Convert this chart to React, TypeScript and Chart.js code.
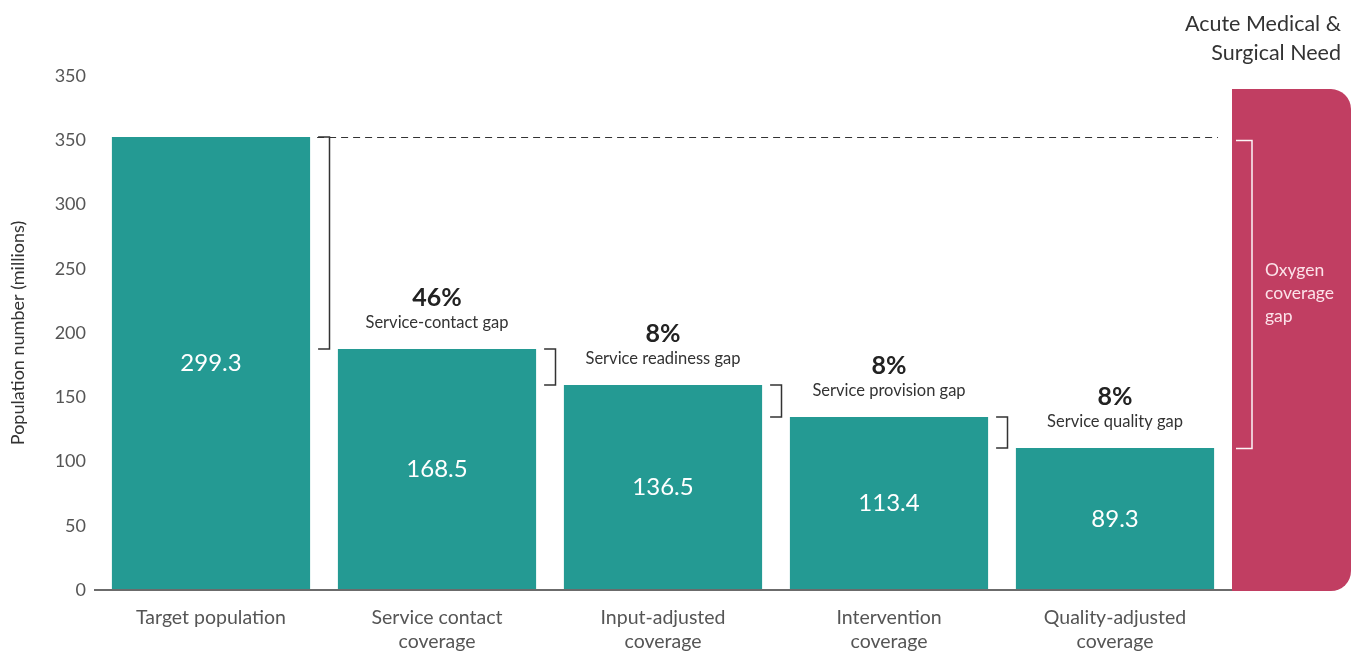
import React, { useEffect, useRef } from "react";
import { Chart, registerables } from "chart.js";

Chart.register(...registerables);

const categories: string[][] = [
  ["Target population"],
  ["Service contact", "coverage"],
  ["Input-adjusted", "coverage"],
  ["Intervention", "coverage"],
  ["Quality-adjusted", "coverage"],
];
// bar heights as drawn against the axis (axis units)
const barHeights: number[] = [352.5, 187.5, 159.5, 134.6, 110.5];
const valueLabels: string[] = ["299.3", "168.5", "136.5", "113.4", "89.3"];
const gapPercents: string[] = ["46%", "8%", "8%", "8%"];
const gapNames: string[] = [
  "Service-contact gap",
  "Service readiness gap",
  "Service provision gap",
  "Service quality gap",
];
const yTickLabels: string[] = ["0", "50", "100", "150", "200", "250", "300", "350", "350"];
const acuteNeedValue: number = 389.8;
const oxygenGapRange: number[] = [350.5, 110.5];
const acuteTitle: string[] = ["Acute Medical &", "Surgical Need"];
const oxygenText: string[] = ["Oxygen", "coverage", "gap"];
const yAxisTitle = "Population number (millions)";

const FONT = "Lato, 'Noto Sans', sans-serif";
const TEAL = "#249A93";
const MAGENTA = "#C13E62";

const overlayPlugin = {
  id: "overlay",
  afterDatasetsDraw(chart: any) {
    const ctx = chart.ctx as CanvasRenderingContext2D;
    const y = chart.scales.y;
    const area = chart.chartArea;
    const meta = chart.getDatasetMeta(0);
    const bars = meta.data as any[];
    ctx.save();

    const base = y.getPixelForValue(0);

    // Axis line
    ctx.strokeStyle = "#6b6b6b";
    ctx.lineWidth = 2;
    ctx.beginPath();
    ctx.moveTo(area.left - 4, base);
    ctx.lineTo(area.right + 4, base);
    ctx.stroke();

    // Acute need bar
    const aTop = y.getPixelForValue(acuteNeedValue);
    const aBottom = base + 1;
    const aLeft = area.right + 4;
    const aRight = aLeft + 119;
    ctx.fillStyle = MAGENTA;
    ctx.beginPath();
    (ctx as any).roundRect(aLeft, aTop, aRight - aLeft, aBottom - aTop, [0, 20, 20, 0]);
    ctx.fill();

    // Oxygen bracket
    const oTop = Math.round(y.getPixelForValue(oxygenGapRange[0])) + 0.5;
    const oBot = Math.round(y.getPixelForValue(oxygenGapRange[1])) + 0.5;
    ctx.strokeStyle = "rgba(255,255,255,0.95)";
    ctx.lineWidth = 1.5;
    ctx.beginPath();
    ctx.moveTo(aLeft + 4, oTop);
    ctx.lineTo(aLeft + 20, oTop);
    ctx.lineTo(aLeft + 20, oBot);
    ctx.lineTo(aLeft + 4, oBot);
    ctx.stroke();

    ctx.fillStyle = "rgba(255,235,240,0.95)";
    ctx.font = `17.5px ${FONT}`;
    ctx.textAlign = "left";
    ctx.textBaseline = "middle";
    oxygenText.forEach((t, i) => ctx.fillText(t, aLeft + 33, 270 + i * 23));

    // Title
    ctx.fillStyle = "#333";
    ctx.font = `21.5px ${FONT}`;
    ctx.textAlign = "right";
    acuteTitle.forEach((t, i) => ctx.fillText(t, aRight - 10, 24 + i * 29));

    // Dashed line at target top
    const first = bars[0];
    const dy = Math.round(first.y) + 0.5;
    ctx.strokeStyle = "#333";
    ctx.lineWidth = 1;
    ctx.setLineDash([7, 5]);
    ctx.beginPath();
    ctx.moveTo(first.x + first.width / 2 + 7, dy);
    ctx.lineTo(aLeft - 14, dy);
    ctx.stroke();
    ctx.setLineDash([]);

    // Value labels
    ctx.fillStyle = "#fff";
    ctx.font = `24px ${FONT}`;
    ctx.textAlign = "center";
    bars.forEach((b, i) => {
      ctx.fillText(valueLabels[i], b.x, (b.y + b.base) / 2);
    });

    // Brackets and gap labels
    for (let i = 1; i < bars.length; i++) {
      const prev = bars[i - 1];
      const cur = bars[i];
      const bx0 = prev.x + prev.width / 2 + 8;
      const bx1 = Math.round(bx0 + 11) + 0.5;
      ctx.strokeStyle = "#333";
      ctx.lineWidth = 1.5;
      ctx.beginPath();
      ctx.moveTo(bx0, prev.y);
      ctx.lineTo(bx1, prev.y);
      ctx.lineTo(bx1, cur.y);
      ctx.lineTo(bx0, cur.y);
      ctx.stroke();

      ctx.fillStyle = "#222";
      ctx.font = `bold 25px ${FONT}`;
      ctx.fillText(gapPercents[i - 1], cur.x, cur.y - 51);
      ctx.fillStyle = "#333";
      ctx.font = `16.5px ${FONT}`;
      ctx.fillText(gapNames[i - 1], cur.x, cur.y - 26);
    }
    ctx.restore();
  },
};

export default function App() {
  const ref = useRef<HTMLCanvasElement>(null);
  useEffect(() => {
    document.body.style.margin = "0";
    if (!ref.current) return;
    const chart = new Chart(ref.current, {
      type: "bar",
      data: {
        labels: categories,
        datasets: [
          {
            data: barHeights,
            backgroundColor: TEAL,
            barPercentage: 0.877,
            categoryPercentage: 1,
          },
        ],
      },
      options: {
        animation: false,
        responsive: false,
        layout: { padding: { left: 0, right: 128, top: 76, bottom: 0 } },
        plugins: { legend: { display: false }, tooltip: { enabled: false } },
        scales: {
          x: {
            grid: { display: false, drawTicks: false },
            border: { display: false },
            ticks: {
              font: { family: FONT, size: 19.5, lineHeight: 1.23 },
              color: "#555",
              padding: 16,
              maxRotation: 0,
            },
            afterFit: (s: any) => {
              s.height = 63;
            },
          },
          y: {
            min: 0,
            max: 400,
            grid: { display: false, drawTicks: false },
            border: { display: false },
            ticks: {
              stepSize: 50,
              font: { family: FONT, size: 18 },
              color: "#555",
              padding: 12,
              callback: (_v: any, i: number) => yTickLabels[i],
            },
            title: {
              display: true,
              text: yAxisTitle,
              font: { family: FONT, size: 18 },
              color: "#333",
              padding: { top: 7, bottom: 4 },
            },
            afterFit: (s: any) => {
              s.width = 98;
            },
          },
        },
      },
      plugins: [overlayPlugin],
    });
    return () => chart.destroy();
  }, []);
  return (
    <div style={{ width: 1356, height: 653 }}>
      <canvas ref={ref} width={1356} height={653} style={{ display: "block" }} />
    </div>
  );
}
